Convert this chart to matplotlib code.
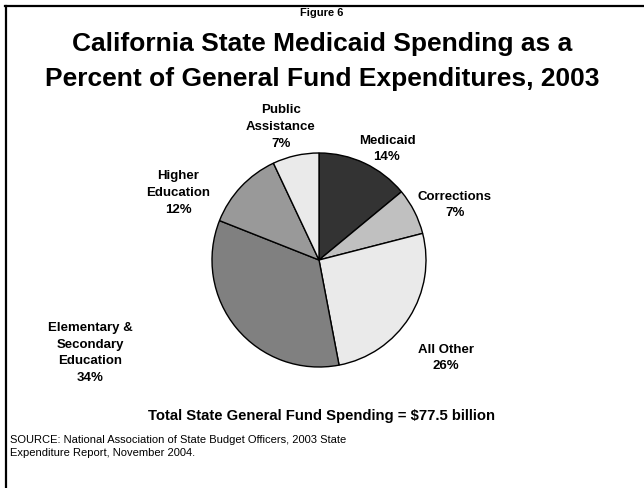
import matplotlib
matplotlib.use('Agg')
from matplotlib import pyplot as plt
from matplotlib.lines import Line2D

plt.rcParams['font.family'] = ['Liberation Sans', 'DejaVu Sans']

categories = ['Medicaid', 'Corrections', 'All Other',
              'Elementary &\nSecondary\nEducation', 'Higher\nEducation',
              'Public\nAssistance']
shares = [14, 7, 26, 34, 12, 7]
colors = ['#333333', '#c0c0c0', '#eaeaea', '#808080', '#999999', '#eaeaea']

# label centres in pixels (figure is 644x489)
label_px = [(387, 149), (455, 205), (446, 358), (90, 353), (178, 193), (281, 127)]

W, H = 644, 489
cx, cy, r = 319, 261, 107

fig = plt.figure(figsize=(W / 100, H / 100), dpi=100)
ax = fig.add_axes([0, 0, 1, 1])

ax.pie(shares, colors=colors, startangle=90, counterclock=False, radius=1,
       wedgeprops=dict(edgecolor='black', linewidth=1))
# pie sets its own limits, so set ours afterwards
ax.set_xlim(-cx / r, (W - cx) / r)
ax.set_ylim(-(H - cy) / r, cy / r)
ax.set_aspect('equal')
ax.axis('off')

for name, val, (px, py) in zip(categories, shares, label_px):
    ax.text((px - cx) / r, (cy - py) / r, f'{name}\n{val}%', ha='center', va='center',
            fontsize=9.5, fontweight='bold', linespacing=1.55)

fig.text(322 / W, 1 - 13 / H, 'Figure 6', ha='center', va='center', fontsize=8, fontweight='bold')
fig.text(322 / W, 1 - 44 / H, 'California State Medicaid Spending as a', ha='center', va='center',
         fontsize=19, fontweight='bold')
fig.text(322 / W, 1 - 79 / H, 'Percent of General Fund Expenditures, 2003', ha='center', va='center',
         fontsize=19, fontweight='bold')
fig.text(322 / W, 1 - 416 / H, 'Total State General Fund Spending = $77.5 billion', ha='center',
         va='center', fontsize=10.7, fontweight='bold')
fig.text(10 / W, 1 - 446.5 / H, 'SOURCE: National Association of State Budget Officers, 2003 State\n'
         'Expenditure Report, November 2004.', ha='left', va='center', fontsize=8, linespacing=1.3)

# frame: top and left only
fig.add_artist(Line2D([5 / W, 643 / W], [1 - 7 / H, 1 - 7 / H], color='black', linewidth=1.6,
                      transform=fig.transFigure))
fig.add_artist(Line2D([6 / W, 6 / W], [1 - 7 / H, 0], color='black', linewidth=1.6,
                      transform=fig.transFigure))

plt.savefig('out.png', dpi=100)
plt.close()
